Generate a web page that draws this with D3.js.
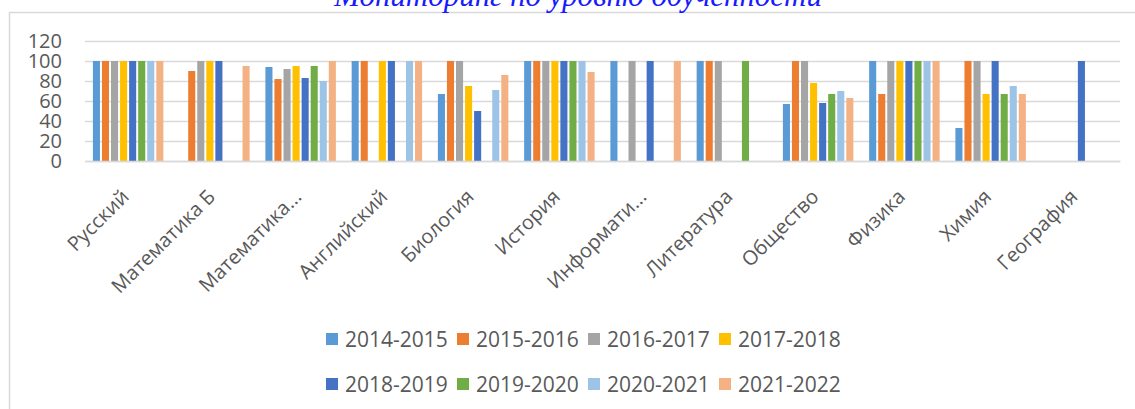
<!DOCTYPE html>
<html>
<head>
<meta charset="utf-8">
<script src="https://cdn.jsdelivr.net/npm/d3@7"></script>
<style>
  body { margin: 0; background: #fff; }
  text { font-family: "Open Sans", sans-serif; fill: #595959; }
</style>
</head>
<body>
<svg id="chart" width="1135" height="409"></svg>
<script>
// subjects (x axis), labels as shown on the chart
const subjects = ['Русский', 'Математика Б', 'Математика...', 'Английский', 'Биология', 'История',
  'Информати...', 'Литература', 'Общество', 'Физика', 'Химия', 'География']

const years = ['2014-2015', '2015-2016', '2016-2017', '2017-2018',
  '2018-2019', '2019-2020', '2020-2021', '2021-2022']

const colors = ['#5B9BD5', '#ED7D31', '#A5A5A5', '#FFC000', '#4472C4', '#70AD47', '#9DC3E6', '#F4B183']

// one array per school year, one value per subject (null = no bar)
const y2014 = [100, null, 94, 100, 67, 100, 100, 100, 57, 100, 33, null]
const y2015 = [100, 90, 82, 100, 100, 100, null, 100, 100, 67, 100, null]
const y2016 = [100, 100, 92, null, 100, 100, 100, 100, 100, 100, 100, null]
const y2017 = [100, 100, 95, 100, 75, 100, null, null, 78, 100, 67, null]
const y2018 = [100, 100, 83, 100, 50, 100, 100, null, 58, 100, 100, 100]
const y2019 = [100, null, 95, null, null, 100, null, 100, 67, 100, 67, null]
const y2020 = [100, null, 80, 100, 71, 100, null, null, 70, 100, 75, null]
const y2021 = [100, 95, 100, 100, 86, 89, 100, null, 63, 100, 67, null]

const series = [y2014, y2015, y2016, y2017, y2018, y2019, y2020, y2021]
const yTicks = [0, 20, 40, 60, 80, 100, 120]

const svg = d3.select('#chart')

/**
 * Frame and title
 */
function drawFrame() {
  svg.append('path')
    .attr('d', 'M9.5,409 L9.5,12.5 L1135,12.5')
    .attr('fill', 'none')
    .attr('stroke', '#d9d9d9')
    .attr('stroke-width', 1.5)

  // title sits above the frame and is partly cut off, like the original
  svg.append('text')
    .attr('x', 578)
    .attr('y', 6)
    .attr('text-anchor', 'middle')
    .style('font-family', '"Liberation Serif", serif')
    .style('font-style', 'italic')
    .style('font-size', '31px')
    .style('fill', '#1a1aff')
    .text('Мониторинг по уровню обученности')
}

const x0 = d3.scaleBand()
  .domain(subjects)
  .range([85, 1120])
  .paddingInner(0.16)
  .paddingOuter(0.08)

const x1 = d3.scaleBand()
  .domain(years)
  .range([0, x0.bandwidth()])
  .paddingInner(0.22)
  .paddingOuter(0.11)

const y = d3.scaleLinear()
  .domain([0, 120])
  .range([161, 41])

/**
 * Gridlines + y axis labels
 */
function drawYAxis() {
  const g = svg.append('g')
    .attr('transform', 'translate(85,0)')
    .call(d3.axisLeft(y).tickValues(yTicks).tickSize(-1035).tickPadding(23))

  g.select('.domain').remove()
  g.selectAll('line')
    .attr('stroke', '#d9d9d9')
    .attr('stroke-width', 1.5)
  g.selectAll('text')
    .style('font-size', '20px')
    .style('fill', '#595959')
    .attr('font-family', null)
}

function drawBars() {
  const groups = svg.append('g')
    .selectAll('g')
    .data(series)
    .join('g')
    .attr('fill', (d, i) => colors[i])

  groups.selectAll('rect')
    .data((d, i) => d.map((v, j) => ({ v: v, subj: subjects[j], year: years[i] })).filter(e => e.v !== null))
    .join('rect')
    .attr('x', d => x0(d.subj) + x1(d.year))
    .attr('y', d => y(d.v))
    .attr('width', x1.bandwidth())
    .attr('height', d => y(0) - y(d.v))
}

function drawXAxis() {
  const g = svg.append('g')
    .attr('transform', 'translate(0,161)')
    .call(d3.axisBottom(x0).tickSize(0).tickPadding(0))

  g.select('.domain')
    .attr('stroke', '#d9d9d9')
    .attr('stroke-width', 1.5)

  g.selectAll('text')
    .attr('font-family', null)
    .style('font-size', '20px')
    .style('fill', '#595959')
    .attr('text-anchor', 'end')
    .attr('dy', null)
    .attr('transform', 'translate(2,37) rotate(-45)')
}

function drawLegend() {
  const item = svg.append('g')
    .selectAll('g')
    .data(years)
    .join('g')
    .attr('transform', (d, i) => 'translate(' + (326 + (i % 4) * 131) + ',' + (339 + Math.floor(i / 4) * 45) + ')')

  item.append('rect')
    .attr('x', 0)
    .attr('y', -6)
    .attr('width', 12)
    .attr('height', 12)
    .attr('fill', (d, i) => colors[i])

  item.append('text')
    .attr('x', 19)
    .attr('dy', '0.36em')
    .style('font-size', '21px')
    .text(d => d)
}

drawFrame()
drawYAxis()
drawBars()
drawXAxis()
drawLegend()
</script>
</body>
</html>
